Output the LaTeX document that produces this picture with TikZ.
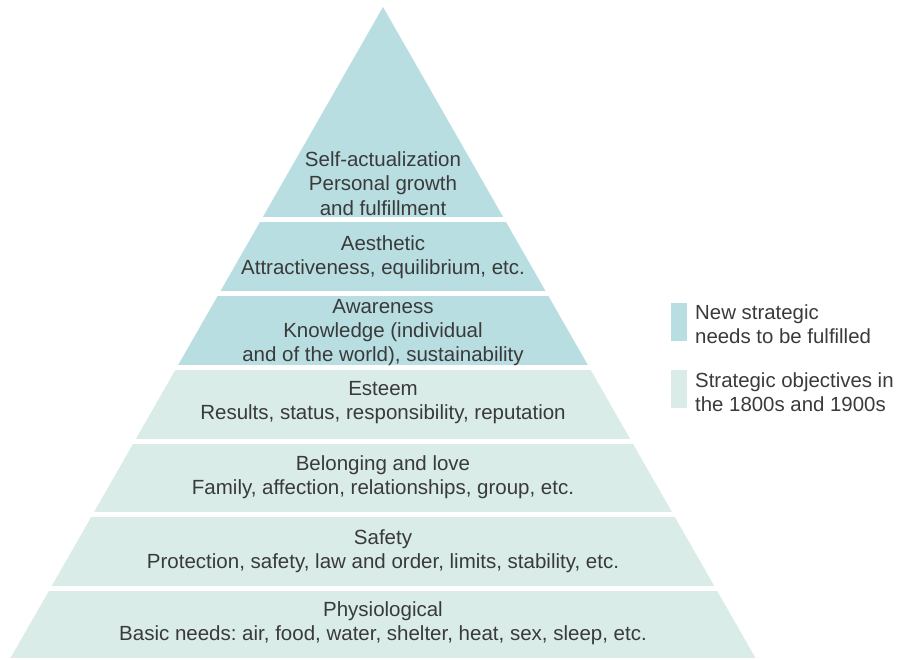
\documentclass[tikz,border=0pt]{standalone}
\usepackage{fontspec}
\setmainfont{Liberation Sans}
\frenchspacing
\definecolor{newc}{HTML}{B8DEE2}
\definecolor{oldc}{HTML}{D9ECE8}
\definecolor{txt}{HTML}{3A3A3A}
\begin{document}
\begin{tikzpicture}[x=1pt,y=-1pt,
  lbl/.style={align=center,text=txt,font=\fontsize{20.5}{24.3}\selectfont,inner sep=0pt},
  leg/.style={align=left,text=txt,font=\fontsize{20.4}{24.3}\selectfont,inner sep=0pt,anchor=west}]
\useasboundingbox (0,0) rectangle (897,659);
\begin{scope}
\clip (383,7) -- (755.5,658) -- (10.5,658) -- cycle;
\fill[newc] (0,0) rectangle (897,217);
\fill[newc] (0,222) rectangle (897,291);
\fill[newc] (0,296) rectangle (897,365);
\fill[oldc] (0,370) rectangle (897,439);
\fill[oldc] (0,444) rectangle (897,512);
\fill[oldc] (0,517) rectangle (897,586);
\fill[oldc] (0,591) rectangle (897,658);
\end{scope}
\node[lbl] (top) at (383,183.5) {Self-actualization\\Personal growth\\and fulfillment};
\node[lbl] (aes) at (383,257.5) {Aesthetic\\Attractiveness, equilibrium, etc.};
\node[lbl] (awa) at (383,332.5) {Awareness\\Knowledge (individual\\and of the world), sustainability};
\node[lbl] (est) at (383,402.5) {Esteem\\Results, status, responsibility, reputation};
\node[lbl] (bel) at (383,477.5) {Belonging and love\\Family, affection, relationships, group, etc.};
\node[lbl] (saf) at (383,551.5) {Safety\\Protection, safety, law and order, limits, stability, etc.};
\node[lbl] (phy) at (383,623.5) {Physiological\\Basic needs: air, food, water, shelter, heat, sex, sleep, etc.};
\fill[newc] (671,303) rectangle (687,341);
\fill[oldc] (671,370) rectangle (687,408);
\node[leg] (l1) at (695,324) {New strategic\\needs to be fulfilled};
\node[leg] (l2) at (695,392) {Strategic objectives in\\the 1800s and 1900s};
\end{tikzpicture}
\end{document}
